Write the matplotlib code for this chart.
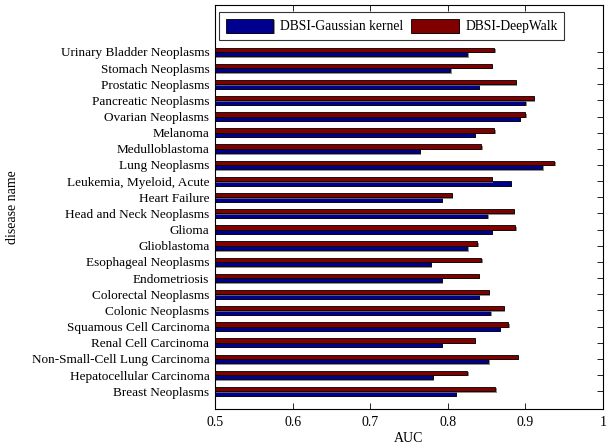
import matplotlib
matplotlib.use("Agg")
import matplotlib.pyplot as plt
import matplotlib.patheffects as pe
import numpy as np

diseases = [
    "Breast Neoplasms", "Hepatocellular Carcinoma", "Non-Small-Cell Lung Carcinoma",
    "Renal Cell Carcinoma", "Squamous Cell Carcinoma", "Colonic Neoplasms",
    "Colorectal Neoplasms", "Endometriosis", "Esophageal Neoplasms", "Glioblastoma",
    "Glioma", "Head and Neck Neoplasms", "Heart Failure", "Leukemia, Myeloid, Acute",
    "Lung Neoplasms", "Medulloblastoma", "Melanoma", "Ovarian Neoplasms",
    "Pancreatic Neoplasms", "Prostatic Neoplasms", "Stomach Neoplasms",
    "Urinary Bladder Neoplasms",
]
gaussian = [0.810, 0.781, 0.852, 0.792, 0.867, 0.855, 0.840, 0.792, 0.778, 0.825,
            0.857, 0.851, 0.792, 0.881, 0.922, 0.764, 0.835, 0.893, 0.900, 0.840,
            0.803, 0.825]
deepwalk = [0.861, 0.825, 0.890, 0.835, 0.878, 0.872, 0.853, 0.840, 0.843, 0.838,
            0.887, 0.885, 0.805, 0.857, 0.937, 0.843, 0.860, 0.900, 0.911, 0.888,
            0.857, 0.860]
xticks = [0.5, 0.6, 0.7, 0.8, 0.9, 1.0]
xticklabels = ["0.5", "0.6", "0.7", "0.8", "0.9", "1"]

plt.rcParams['font.family'] = ['Liberation Serif', 'DejaVu Serif']
plt.rcParams['font.size'] = 9.5

fig = plt.figure(figsize=(6.08, 4.47), dpi=100)
ax = fig.add_axes([215/608, 1-409/447, 388/608, 404/447])

y = np.arange(1, len(diseases)+1)
h = 0.27
blue = "#00008F"
red = "#800000"
shadow = [pe.SimplePatchShadow(offset=(1, -1), shadow_rgbFace="0.45", alpha=0.8), pe.Normal()]
b1 = ax.barh(y - h/2, gaussian, height=h, left=0, color=blue, edgecolor="black",
             linewidth=0.6, label="DBSI-Gaussian kernel")
b2 = ax.barh(y + h/2, deepwalk, height=h, left=0, color=red, edgecolor="black",
             linewidth=0.6, label="DBSI-DeepWalk")
for p in list(b1) + list(b2):
    p.set_path_effects(shadow)

ax.set_xlim(0.5, 1.0)
ax.set_ylim(-0.1, 24.9)
ax.set_xticks(xticks)
ax.set_xticklabels(xticklabels, fontsize=10)
ax.set_yticks(y)
ax.set_yticklabels(diseases)
ax.tick_params(direction="in", top=True, right=True, length=4, width=0.6)
ax.tick_params(axis="y", pad=4)
ax.tick_params(axis="x", pad=5)
for s in ax.spines.values():
    s.set_linewidth(0.8)
ax.set_xlabel("AUC", labelpad=2, fontsize=10)
ax.set_ylabel("disease name", labelpad=9, fontsize=10)

leg = ax.legend(loc="center", bbox_to_anchor=(0.456, 0.948), ncol=2,
                frameon=True, fancybox=False, edgecolor="black",
                handlelength=3.5, handleheight=1.25, columnspacing=0.6,
                handletextpad=0.5, borderpad=0.45, borderaxespad=0, fontsize=9.8)
leg.get_frame().set_linewidth(0.8)

fig.savefig("out.png", dpi=100)
